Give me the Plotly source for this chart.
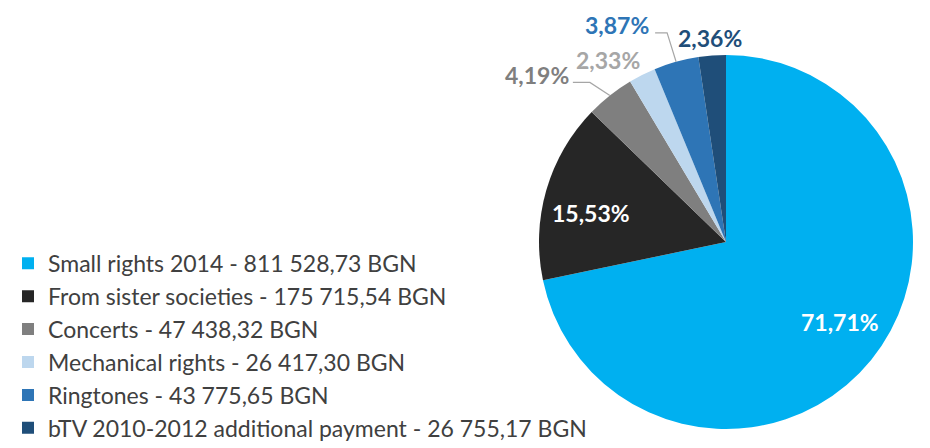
import math
import plotly.graph_objects as go

categories = [
    "Small rights 2014 - 811 528,73 BGN",
    "From sister societies - 175 715,54 BGN",
    "Concerts - 47 438,32 BGN",
    "Mechanical rights - 26 417,30 BGN",
    "Ringtones - 43 775,65 BGN",
    "bTV 2010-2012 additional payment - 26 755,17 BGN",
]
values = [811528.73, 175715.54, 47438.32, 26417.30, 43775.65, 26755.17]
colors = ["#00b0f0", "#262626", "#7f7f7f", "#bdd7ee", "#2e75b6", "#1f4e79"]
label_colors = ["#ffffff", "#ffffff", "#7f7f7f", "#a6a6a6", "#2e75b6", "#1f4e79"]

# label placement style: pixel offset of the label centre from the slice's outer-edge midpoint
label_dx = [-31, 45, -73, -34, -59, -2]
label_dy = [38, -23, 20, 15, 37, 18]       # positive = up
# leader lines (pixel offsets from the edge midpoint), None = no leader
leaders = [None, None, [(-20, 13), (-37, 13)], None, [(-9, 29), (-21, 29)], None]

W, H = 930, 448
cx, cy, r = 718, 234, 187

fig = go.Figure(go.Pie(
    labels=categories,
    values=values,
    sort=False,
    direction="clockwise",
    rotation=0,
    marker=dict(colors=colors, line=dict(width=0)),
    textinfo="none",
    domain=dict(x=[(cx - r) / W, (cx + r) / W], y=[1 - (cy + r) / H, 1 - (cy - r) / H]),
    automargin=False,
    hoverinfo="label+percent",
))

total = sum(values)
cum = 0.0
for i, v in enumerate(values):
    frac = v / total
    theta = 2 * math.pi * (cum + frac / 2)
    cum += frac
    ex = cx + r * math.sin(theta)
    ey = cy - r * math.cos(theta)
    xp, yp = ex / W, 1 - ey / H
    pct = f"{frac * 100:.2f}".replace(".", ",") + "%"
    fig.add_annotation(
        x=xp, y=yp, xref="paper", yref="paper",
        text=f"<b>{pct}</b>", showarrow=False,
        xshift=label_dx[i], yshift=label_dy[i],
        font=dict(family="Lato", size=23, color=label_colors[i]),
        xanchor="center", yanchor="middle",
    )
    if leaders[i]:
        pts = [(0, 0)] + leaders[i]
        path = "M " + " L ".join(f"{px},{py}" for px, py in pts)
        fig.add_shape(
            type="path", path=path,
            xref="paper", yref="paper",
            xsizemode="pixel", ysizemode="pixel",
            xanchor=xp, yanchor=yp,
            line=dict(color="#a6a6a6", width=1.2),
        )

fig.update_layout(
    width=W, height=H,
    margin=dict(l=0, r=0, t=0, b=0),
    paper_bgcolor="white",
    showlegend=True,
    legend=dict(
        x=0.0, xanchor="left", y=0.478, yanchor="top",
        font=dict(family="Lato", size=23, color="#404040"),
        itemwidth=30,
        bgcolor="rgba(0,0,0,0)",
    ),
)

fig.write_html("out.html")
